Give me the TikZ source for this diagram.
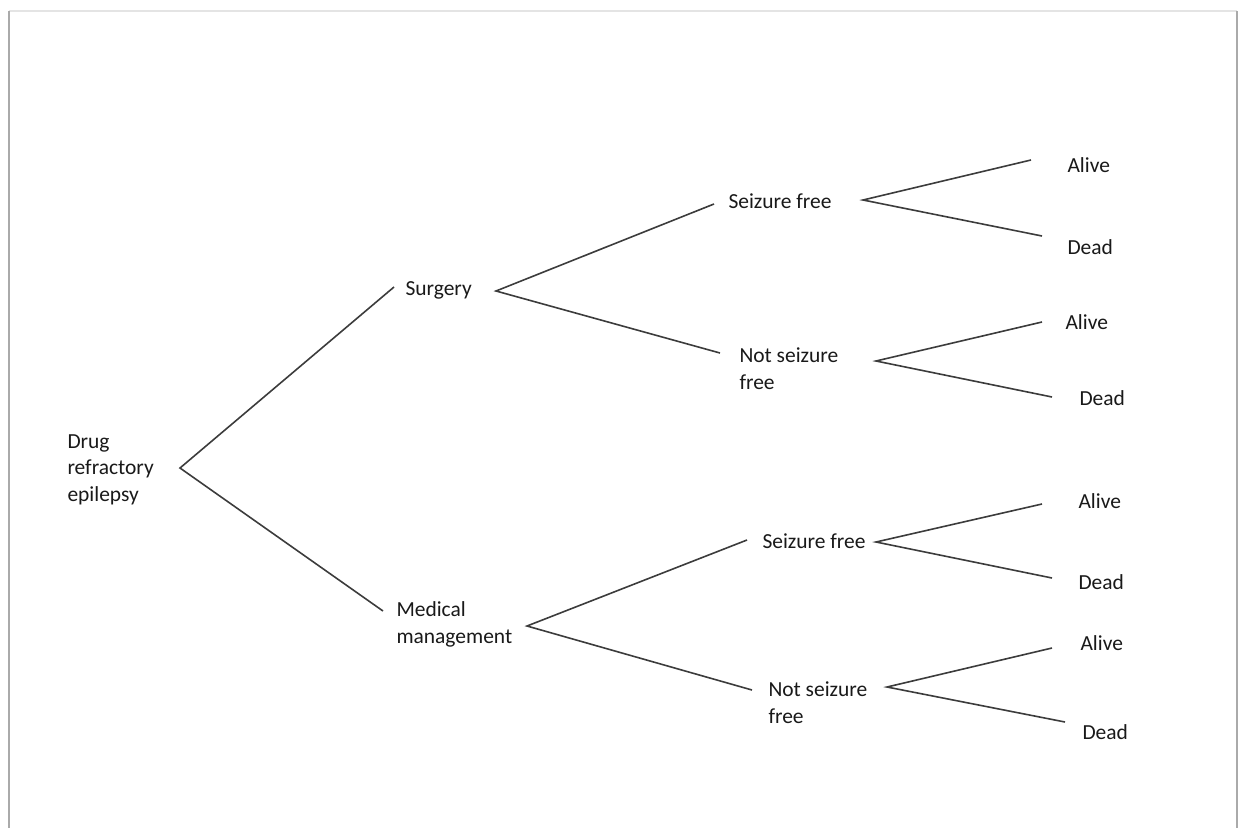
\documentclass[tikz,border=0pt]{standalone}
\usepackage{fontspec}
\setmainfont{Carlito}

\definecolor{inkgray}{RGB}{25,25,25}
\definecolor{branchgray}{RGB}{60,60,60}
\definecolor{edgelight}{RGB}{228,228,228}
\definecolor{edgedark}{RGB}{170,170,170}

\tikzset{every picture/.style={line width=0.75pt}}
\tikzset{
  lbl/.style={anchor=base west, inner sep=0pt, align=left, text=inkgray, font=\fontsize{16.1}{19.6}\selectfont},
  branch/.style={draw=branchgray, line width=1.2pt},
}

\begin{document}
\begin{tikzpicture}[x=0.75pt,y=0.75pt,yscale=-1,xscale=1]
	\useasboundingbox (0,0) rectangle (1244,828);

	%Shape: Page frame
	\draw [color=edgelight, line width=1.5pt] (9,11) -- (1237,11) ;
	\draw [color=edgedark, line width=2.2pt] (9,11) -- (9,828) ;
	\draw [color=edgedark, line width=2.2pt] (1237,11) -- (1237,828) ;

	% Text Node (multi-line nodes sit on their last baseline)
	\node [lbl] (drug) at (67,501) {Drug\\refractory\\epilepsy};
	\node [lbl] (surg) at (405,295) {Surgery};
	\node [lbl] (med) at (396,643) {Medical\\management};
	% Text Node
	\node [lbl] (sfA) at (728,208) {Seizure free};
	\node [lbl] (nsfA) at (739,389) {Not seizure\\free};
	\node [lbl] (sfB) at (762,548) {Seizure free};
	\node [lbl] (nsfB) at (768,723) {Not seizure\\free};
	% Text Node
	\node [lbl] (aliveA) at (1067,172) {Alive};
	\node [lbl] (deadA) at (1067,254) {Dead};
	\node [lbl] (aliveB) at (1065,329) {Alive};
	\node [lbl] (deadB) at (1079,405) {Dead};
	\node [lbl] (aliveC) at (1078,508) {Alive};
	\node [lbl] (deadC) at (1078,589) {Dead};
	\node [lbl] (aliveD) at (1080,650) {Alive};
	\node [lbl] (deadD) at (1082,739) {Dead};

	%Fork points
	\coordinate (drugF) at (180,468);
	\coordinate (surgF) at (496,291);
	\coordinate (medF) at (527,626);
	\coordinate (sfAF) at (863,200);
	\coordinate (nsfAF) at (876,361);
	\coordinate (sfBF) at (876,542);
	\coordinate (nsfBF) at (887,687);
	%Branch ends
	\coordinate (surgT) at (394,287);
	\coordinate (medT) at (383,611);
	\coordinate (sfAT) at (714,204);
	\coordinate (nsfAT) at (720,353);
	\coordinate (sfBT) at (747,540);
	\coordinate (nsfBT) at (752,690);
	\coordinate (aliveAT) at (1031,160);
	\coordinate (deadAT) at (1042,236);
	\coordinate (aliveBT) at (1042,322);
	\coordinate (deadBT) at (1052,397);
	\coordinate (aliveCT) at (1042,504);
	\coordinate (deadCT) at (1052,578);
	\coordinate (aliveDT) at (1052,648);
	\coordinate (deadDT) at (1065,722);

	%Straight Lines
	\draw [branch] (surgT) -- (drugF) -- (medT) ;
	\draw [branch] (sfAT) -- (surgF) -- (nsfAT) ;
	\draw [branch] (sfBT) -- (medF) -- (nsfBT) ;
	%Straight Lines
	\draw [branch] (aliveAT) -- (sfAF) -- (deadAT) ;
	\draw [branch] (aliveBT) -- (nsfAF) -- (deadBT) ;
	\draw [branch] (aliveCT) -- (sfBF) -- (deadCT) ;
	\draw [branch] (aliveDT) -- (nsfBF) -- (deadDT) ;

\end{tikzpicture}
\end{document}
